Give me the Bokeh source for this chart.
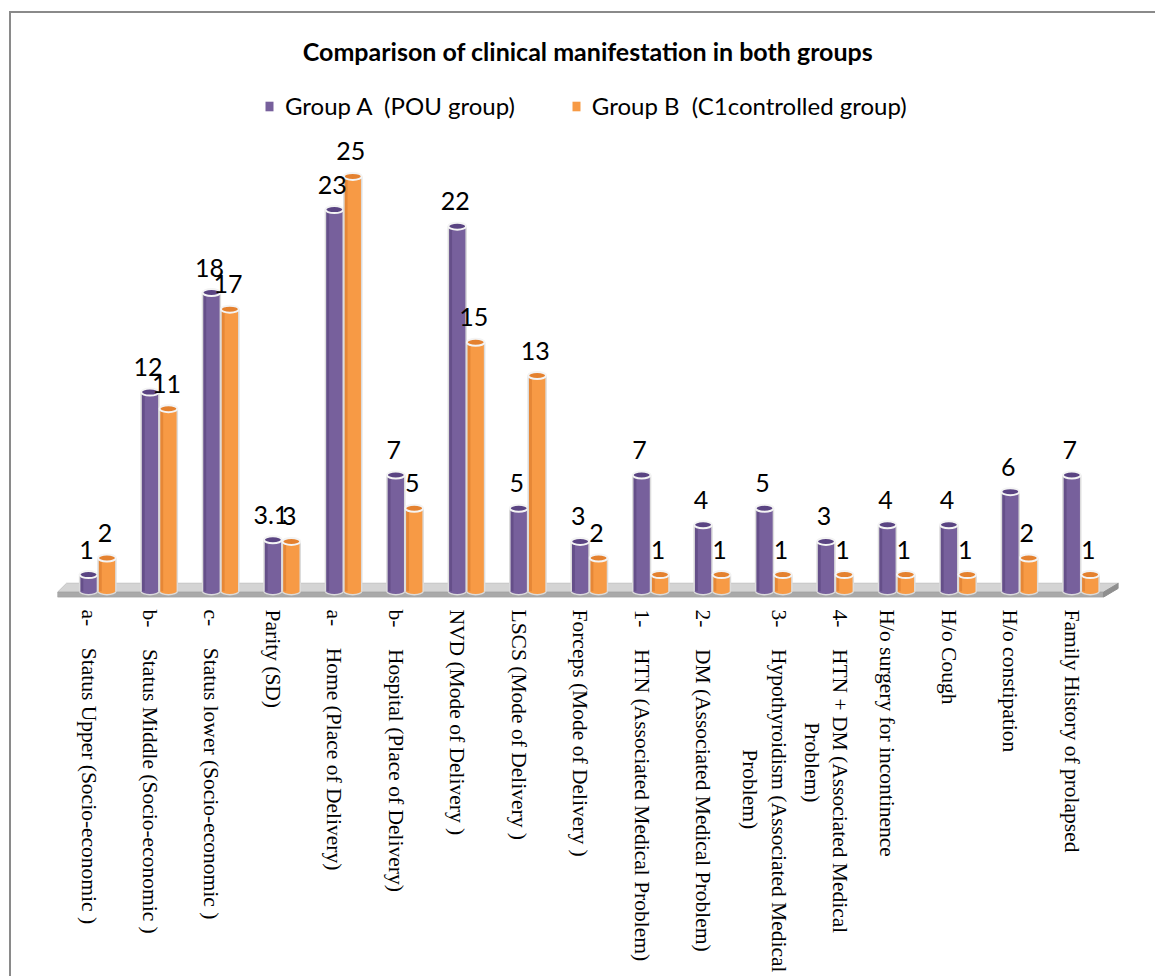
import math
from bokeh.plotting import figure
from bokeh.models import (ColumnDataSource, Range1d, FixedTicker, LabelSet,
                          Legend, LegendItem)
from bokeh.embed import file_html
from bokeh.resources import INLINE
from bokeh.core.properties import value

GAP = "\u00a0\u00a0\u00a0 "      # tab-like gap after list prefixes
IND3 = "\u00a0" * 26              # centring indent of wrapped second lines
IND4 = "\u00a0" * 21

# ---------------- data ----------------
categories = [
    "a-" + GAP + "Status Upper (Socio-economic )",
    "b-" + GAP + "Status Middle (Socio-economic )",
    "c-" + GAP + "Status lower (Socio-economic )",
    "Parity (SD)",
    "a-" + GAP + "Home (Place of Delivery)",
    "b-" + GAP + "Hospital (Place of Delivery)",
    "NVD (Mode of Delivery )",
    "LSCS (Mode of Delivery )",
    "Forceps (Mode of Delivery )",
    "1-" + GAP + "HTN (Associated Medical Problem)",
    "2-" + GAP + "DM (Associated Medical Problem)",
    "3-" + GAP + "Hypothyroidism (Associated Medical\n" + IND3 + "Problem)",
    "4-" + GAP + "HTN + DM (Associated Medical\n" + IND4 + "Problem)",
    "H/o surgery for incontinence",
    "H/o Cough",
    "H/o constipation",
    "Family History of prolapsed",
]
group_a = [1, 12, 18, 3.1, 23, 7, 22, 5, 3, 7, 4, 5, 3, 4, 4, 6, 7]
group_b = [2, 11, 17, 3, 25, 5, 15, 13, 2, 1, 1, 1, 1, 1, 1, 2, 1]
series_names = ["Group A  (POU group)", "Group B  (C1controlled group)"]
title_text = "Comparison of clinical manifestation in both groups"

# ---------------- styles ----------------
n = len(categories)
BAR_W = 0.29
DODGE_B = 0.30
PURPLE = "#77609c"
PURPLE_TOP = "#5a4482"
PURPLE_DARK = "#5e4982"
ORANGE = "#f79a45"
ORANGE_TOP = "#e4812f"
ORANGE_DARK = "#de7f31"
EDGE = "#dcdcdc"


def fmt(v):
    return str(int(v)) if float(v).is_integer() else str(v)


p = figure(width=1146, height=965,
           x_range=Range1d(-0.505, n - 1 + 0.76),
           y_range=Range1d(-0.38, 30.78),
           output_backend="svg", toolbar_location=None,
           y_axis_location=None,
           min_border_left=46, min_border_right=39,
           min_border_top=67, min_border_bottom=381,
           title=title_text)
p.styles = {"border-left": "2px solid #8a8a8a",
            "border-top": "2px solid #8a8a8a",
            "margin-top": "11px",
            "margin-left": "9px"}

p.title.text_font = "Lato"
p.title.text_font_style = "bold"
p.title.text_font_size = "25px"
p.title.align = "center"
p.title.standoff = 30
p.title.text_color = "black"

p.xgrid.visible = False
p.ygrid.visible = False
p.outline_line_color = None
p.background_fill_color = "white"
p.border_fill_color = "white"

# ---------------- floor (3-D base) ----------------
right = n - 1 + 0.76
p.patch([-0.358, right, right - 0.245, -0.505], [0.48, 0.48, -0.06, -0.06],
        fill_color="#d4d4d4", line_color="#c4c4c4", line_width=1)
p.patch([-0.505, right - 0.245, right - 0.245, -0.505], [-0.06, -0.06, -0.36, -0.36],
        fill_color="#a9a9a9", line_color="#a0a0a0", line_width=1)
p.patch([right - 0.245, right, right, right - 0.245], [-0.06, 0.48, 0.18, -0.36],
        fill_color="#8f8f8f", line_color="#8f8f8f", line_width=1)

# ---------------- cylinders ----------------
xa = [i for i in range(n)]
xb = [i + DODGE_B for i in range(n)]
renderers = []
for xs, vals, body, top_c, dark in [(xa, group_a, PURPLE, PURPLE_TOP, PURPLE_DARK),
                                    (xb, group_b, ORANGE, ORANGE_TOP, ORANGE_DARK)]:
    src = ColumnDataSource(dict(
        x=xs, top=vals, zero=[0] * n,
        xl=[x - BAR_W / 2 for x in xs], xr=[x + BAR_W / 2 for x in xs],
        xs1=[x - BAR_W / 2 + 0.035 for x in xs],
        label=[fmt(v) for v in vals]))
    p.ellipse(x="x", y="zero", width=BAR_W, height=7, height_units="screen",
              source=src, fill_color=body, line_color=EDGE, line_width=1.5)
    r = p.vbar(x="x", top="top", bottom=0, width=BAR_W, source=src,
               fill_color=body, line_color=None)
    p.vbar(x="xs1", top="top", bottom=0, width=0.05, source=src,
           fill_color=dark, line_color=None, fill_alpha=0.7)
    p.segment(x0="xl", y0="zero", x1="xl", y1="top", source=src,
              line_color=EDGE, line_width=1.5)
    p.segment(x0="xr", y0="zero", x1="xr", y1="top", source=src,
              line_color=EDGE, line_width=1.5)
    p.ellipse(x="x", y="top", width=BAR_W, height=7, height_units="screen",
              source=src, fill_color=top_c, line_color="#f4f4f4", line_width=2)
    labels = LabelSet(x="x", y="top", text="label", source=src,
                      x_offset=-2, y_offset=25, text_align="center",
                      text_baseline="middle", text_font=value("Lato"),
                      text_font_size="25px", text_color="black")
    p.add_layout(labels)
    renderers.append(r)

# ---------------- legend ----------------
legend = Legend(items=[LegendItem(label=series_names[0], renderers=[renderers[0]]),
                       LegendItem(label=series_names[1], renderers=[renderers[1]])],
                orientation="horizontal", location=(207, 477),
                border_line_color=None, background_fill_alpha=0,
                padding=0, margin=0, spacing=56,
                glyph_width=10, glyph_height=12, label_standoff=11,
                label_text_font="Lato", label_text_font_size="24px",
                label_text_color="black")
p.add_layout(legend)

# ---------------- x axis ----------------
ax = p.xaxis[0]
ax.ticker = FixedTicker(ticks=list(range(n)))
ax.major_label_overrides = {i: c for i, c in enumerate(categories)}
ax.major_label_orientation = -math.pi / 2
ax.major_label_text_font = "Liberation Serif"
ax.major_label_text_font_size = "21.5px"
ax.major_label_text_color = "black"
ax.axis_line_color = None
ax.major_tick_line_color = None
ax.minor_tick_line_color = None
ax.major_label_standoff = 6

open("out.html", "w").write(file_html(p, INLINE))
